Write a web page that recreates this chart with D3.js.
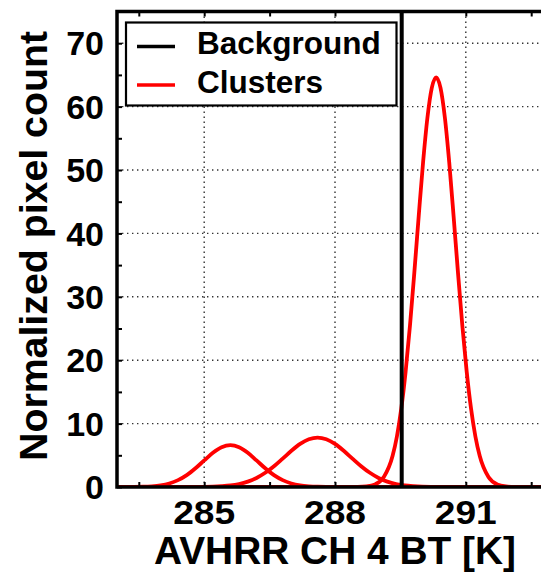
<!DOCTYPE html>
<html>
<head>
<meta charset="utf-8">
<script src="https://cdn.jsdelivr.net/npm/d3@7"></script>
<style>
  html, body { margin: 0; padding: 0; background: #fff; }
  svg { display: block; }
  text { font-family: "Liberation Sans", Arial, Helvetica, sans-serif; font-weight: bold; fill: #000; }
</style>
</head>
<body>
<svg id="chart" width="541" height="572"></svg>
<script>
// Brightness temperature of the background threshold [K]
const backgroundBT = 289.53;

// Normalized pixel-count curves of the three clusters: [BT (K), count]
const cluster1 = [
  [283.0, 0], [283.2, 0], [283.6, 0.04], [283.8, 0.11], [284.0, 0.26], [284.2, 0.56],
  [284.4, 1.08], [284.6, 1.87], [284.8, 2.95], [285.0, 4.19], [285.2, 5.40],
  [285.4, 6.28], [285.6, 6.6], [285.8, 6.28], [286.0, 5.40], [286.2, 4.19],
  [286.4, 2.95], [286.6, 1.87], [286.8, 1.08], [287.0, 0.56], [287.2, 0.26],
  [287.4, 0.11], [287.6, 0.04], [288.0, 0], [293.0, 0]
];
const cluster2 = [
  [283.0, 0], [284.6, 0], [285.0, 0.02], [285.2, 0.05], [285.4, 0.12], [285.6, 0.24],
  [285.8, 0.47], [286.0, 0.85], [286.2, 1.43], [286.4, 2.24], [286.6, 3.28],
  [286.8, 4.48], [287.0, 5.71], [287.2, 6.79], [287.4, 7.53], [287.6, 7.8],
  [287.8, 7.53], [288.0, 6.79], [288.2, 5.71], [288.4, 4.48], [288.6, 3.28],
  [288.8, 2.24], [289.0, 1.43], [289.2, 0.85], [289.4, 0.47], [289.6, 0.24],
  [289.8, 0.12], [290.0, 0.05], [290.2, 0.02], [290.6, 0], [293.0, 0]
];
const cluster3 = [
  [283.0, 0], [288.2, 0], [288.52, 0.01], [288.72, 0.09], [288.92, 0.41], [289.12, 1.57],
  [289.32, 4.88], [289.42, 7.97], [289.52, 12.37], [289.62, 18.22], [289.72, 25.49],
  [289.82, 33.87], [289.92, 42.73], [290.02, 51.20], [290.12, 58.26], [290.22, 62.95],
  [290.32, 64.6], [290.42, 62.95], [290.52, 58.26], [290.62, 51.20], [290.72, 42.73],
  [290.82, 33.87], [290.92, 25.49], [291.02, 18.22], [291.12, 12.37], [291.22, 7.97],
  [291.32, 4.88], [291.52, 1.57], [291.72, 0.41], [291.92, 0.09], [292.12, 0.01],
  [292.4, 0], [293.0, 0]
];
const clusters = [cluster1, cluster2, cluster3];

// Axes
const xDomain = [283, 293];
const yDomain = [0, 75];
const xTickLabels = [285, 288, 291];
const xMinorTicks = [283.5, 285, 286.5, 288, 289.5, 291, 292.5];
const yTickLabels = [0, 10, 20, 30, 40, 50, 60, 70];
const yMinorTicks = [0, 5, 10, 15, 20, 25, 30, 35, 40, 45, 50, 55, 60, 65, 70, 75];

const legendItems = [
  { label: "Background", color: "#000" },
  { label: "Clusters", color: "#ff0000" }
];
const xTitle = "AVHRR CH 4 BT [K]";
const yTitle = "Normalized pixel count";

// ---- layout ----
const plot = { left: 117, right: 553, top: 11.5, bottom: 487 };

const svg = d3.select("#chart");
const x = d3.scaleLinear().domain(xDomain).range([plot.left, plot.right]);
const y = d3.scaleLinear().domain(yDomain).range([plot.bottom, plot.top]);

svg.append("defs").append("clipPath").attr("id", "plotClip")
  .append("rect")
  .attr("x", plot.left).attr("y", plot.top)
  .attr("width", plot.right - plot.left).attr("height", plot.bottom - plot.top);

// grid lines (dotted)
const grid = svg.append("g").attr("stroke", "#333").attr("stroke-width", 1.4)
  .attr("stroke-dasharray", "1.4,3.6");
grid.selectAll("line.vx").data(xTickLabels).join("line")
  .attr("x1", d => x(d)).attr("x2", d => x(d))
  .attr("y1", plot.top).attr("y2", plot.bottom);
grid.selectAll("line.hy").data(yTickLabels.filter(d => d > 0)).join("line")
  .attr("x1", plot.left).attr("x2", plot.right)
  .attr("y1", d => y(d)).attr("y2", d => y(d));

// cluster curves
const line = d3.line().x(d => x(d[0])).y(d => y(d[1])).curve(d3.curveMonotoneX);
const curves = svg.append("g").attr("clip-path", "url(#plotClip)");
curves.selectAll("path").data(clusters).join("path")
  .attr("d", line)
  .attr("fill", "none")
  .attr("stroke", "#ff0000")
  .attr("stroke-width", 3.8)
  .attr("stroke-linejoin", "round");

// background threshold
curves.append("line")
  .attr("x1", x(backgroundBT)).attr("x2", x(backgroundBT))
  .attr("y1", y(yDomain[0])).attr("y2", y(yDomain[1]))
  .attr("stroke", "#000").attr("stroke-width", 4);

// axes: frame with inward ticks
const bottomAxis = d3.axisTop(x).tickValues(xMinorTicks).tickSize(5).tickFormat("");
const topAxis = d3.axisBottom(x).tickValues(xMinorTicks).tickSize(5).tickFormat("");
const leftAxis = d3.axisRight(y).tickValues(yMinorTicks).tickSize(5).tickFormat("");
[
  [bottomAxis, `translate(0,${plot.bottom})`],
  [topAxis, `translate(0,${plot.top})`],
  [leftAxis, `translate(${plot.left},0)`]
].forEach(([ax, tr]) => {
  const g = svg.append("g").attr("transform", tr).call(ax);
  g.select(".domain").remove();
  g.selectAll(".tick line").attr("stroke", "#000").attr("stroke-width", 2);
});

svg.append("rect")
  .attr("x", plot.left).attr("y", plot.top)
  .attr("width", plot.right - plot.left).attr("height", plot.bottom - plot.top)
  .attr("fill", "none").attr("stroke", "#000").attr("stroke-width", 3.5);

// tick labels
svg.append("g").selectAll("text").data(xTickLabels).join("text")
  .attr("x", d => x(d)).attr("y", 524)
  .attr("text-anchor", "middle")
  .attr("font-size", 34)
  .attr("textLength", 62).attr("lengthAdjust", "spacingAndGlyphs")
  .text(d => d);
svg.append("g").selectAll("text").data(yTickLabels).join("text")
  .attr("x", 104).attr("y", d => y(d))
  .attr("dy", "0.36em")
  .attr("text-anchor", "end")
  .attr("font-size", 34)
  .text(d => d);

// axis titles
svg.append("text")
  .attr("x", (plot.left + plot.right) / 2).attr("y", 564)
  .attr("text-anchor", "middle").attr("font-size", 38)
  .attr("textLength", 362).attr("lengthAdjust", "spacingAndGlyphs")
  .text(xTitle);
svg.append("text")
  .attr("transform", "translate(46.5,246) rotate(-90)")
  .attr("text-anchor", "middle").attr("font-size", 39)
  .attr("textLength", 430).attr("lengthAdjust", "spacingAndGlyphs")
  .text(yTitle);

// legend
const legend = svg.append("g");
legend.append("rect")
  .attr("x", 126).attr("y", 22.5).attr("width", 270.5).attr("height", 83)
  .attr("fill", "#fff").attr("stroke", "#000").attr("stroke-width", 2.2);
const legendRows = legend.selectAll("g.item").data(legendItems).join("g")
  .attr("transform", (d, i) => `translate(0,${46.5 + i * 38.5})`);
legendRows.append("line")
  .attr("x1", 137).attr("x2", 175).attr("y1", 0).attr("y2", 0)
  .attr("stroke", d => d.color).attr("stroke-width", 3.5);
legendRows.append("text")
  .attr("x", 197).attr("y", 7.5)
  .attr("font-size", 31.5)
  .text(d => d.label);
</script>
</body>
</html>
